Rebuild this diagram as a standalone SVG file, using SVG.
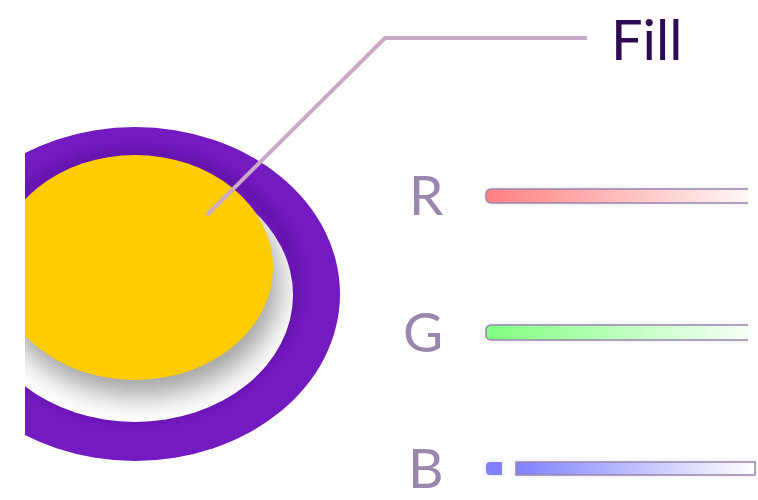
<svg xmlns="http://www.w3.org/2000/svg" width="758" height="500" viewBox="0 0 758 500">
<style>
.lbl{font-family:Lato,"Liberation Sans",sans-serif;fill:#9b86ad;font-size:55px}
.title{font-family:Lato,"Liberation Sans",sans-serif;fill:#2d0a52;font-size:56px}
.bar{stroke:#9b86ad;stroke-width:1.5}
.leader{fill:none;stroke:#c9a9c6;stroke-width:4}
</style>
<defs>
<clipPath id="leftClip"><rect x="25" y="0" width="733" height="500"/></clipPath>
<clipPath id="hole"><ellipse cx="135" cy="295" rx="158" ry="127"/></clipPath>
<clipPath id="ring"><ellipse cx="135" cy="294" rx="205" ry="167"/></clipPath>
<clipPath id="rightClip"><rect x="0" y="0" width="748" height="500"/></clipPath>
<filter id="blur" x="-50%" y="-50%" width="200%" height="200%"><feGaussianBlur stdDeviation="14"/></filter>
<filter id="blur2" x="-50%" y="-50%" width="200%" height="200%"><feGaussianBlur stdDeviation="6"/></filter>
<filter id="soft" x="-10%" y="-100%" width="120%" height="300%"><feGaussianBlur stdDeviation="2"/></filter>
<linearGradient id="gr" x1="0" x2="1" y1="0" y2="0"><stop offset="0" stop-color="#ff8080"/><stop offset="1" stop-color="#ffffff"/></linearGradient>
<linearGradient id="gg" x1="0" x2="1" y1="0" y2="0"><stop offset="0" stop-color="#80ff80"/><stop offset="1" stop-color="#ffffff"/></linearGradient>
<linearGradient id="gb" x1="0" x2="1" y1="0" y2="0"><stop offset="0" stop-color="#8080ff"/><stop offset="1" stop-color="#ffffff"/></linearGradient>
</defs>
<g id="disc" clip-path="url(#leftClip)">
<ellipse cx="135" cy="294" rx="205" ry="167" fill="#741ac1"/>
<g clip-path="url(#ring)">
<ellipse cx="135" cy="285" rx="160" ry="131" fill="none" stroke="#3a0870" stroke-opacity="0.35" stroke-width="10" filter="url(#blur2)"/>
</g>
<ellipse cx="135" cy="295" rx="158" ry="127" fill="#ffffff"/>
<g clip-path="url(#hole)">
<ellipse cx="140" cy="284" rx="140" ry="112" fill="#a0a0a0" filter="url(#blur)"/>
</g>
<ellipse cx="135" cy="267.5" rx="138" ry="112.5" fill="#ffcc00"/>
</g>
<g id="connectors">
<polyline class="leader" points="207,215 385,38 587,38"/>
</g>
<g id="fill-label"><text class="title" x="611" y="60">Fill</text></g>
<g id="r-slider">
<text class="lbl" x="409" y="215">R</text>
<g clip-path="url(#rightClip)">
<rect x="484" y="187" width="280" height="18" rx="6" fill="#eeeef4" filter="url(#soft)"/>
<rect class="bar" x="486" y="189" width="280" height="14" rx="5" fill="url(#gr)"/>
</g>
</g>
<g id="g-slider">
<text class="lbl" x="403" y="352">G</text>
<g clip-path="url(#rightClip)">
<rect x="484" y="323" width="280" height="19" rx="6" fill="#eeeef4" filter="url(#soft)"/>
<rect class="bar" x="486" y="325" width="280" height="15" rx="5" fill="url(#gg)"/>
</g>
</g>
<g id="b-slider">
<text class="lbl" x="408" y="488">B</text>
<rect x="484" y="460" width="20" height="17" rx="5" fill="#eeeef4" filter="url(#soft)"/>
<path d="M490,462 H502 V475 H490 A4,4 0 0 1 486,471 V466 A4,4 0 0 1 490,462 Z" fill="#8080ff"/>
<rect x="513" y="460" width="245" height="17" fill="#eeeef4" filter="url(#soft)"/>
<rect class="bar" x="516" y="462" width="239" height="13" fill="url(#gb)"/>
</g>
</svg>
